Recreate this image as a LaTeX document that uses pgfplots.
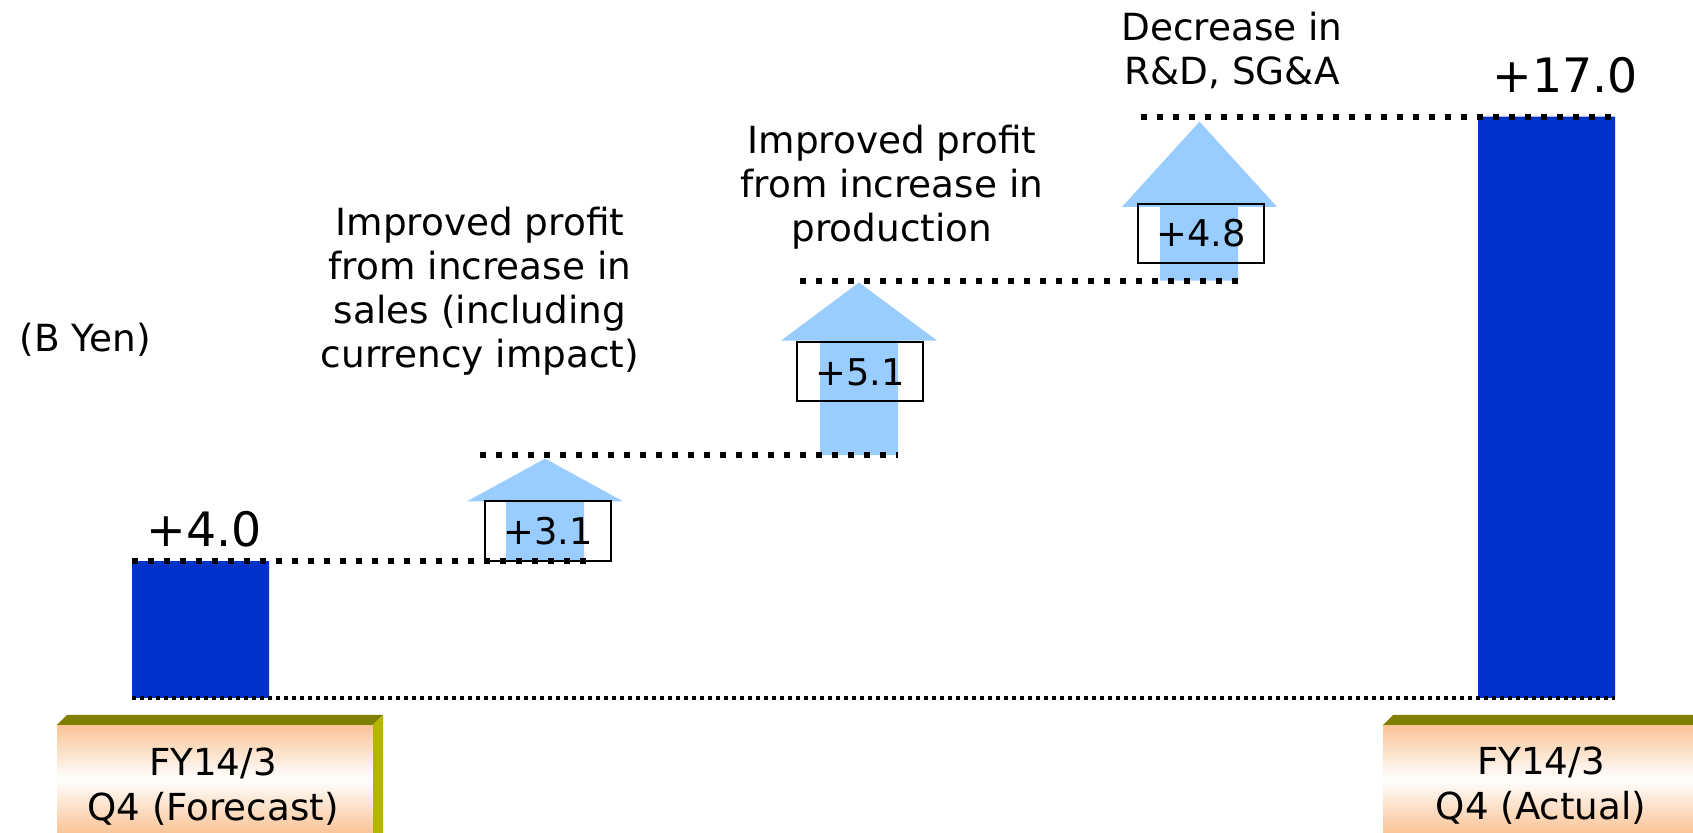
\documentclass[border=0pt]{standalone}
\usepackage{pgfplots}
\pgfplotsset{compat=1.18}
\usepackage{fontspec}
\setmainfont{DejaVu Sans}
\definecolor{barblue}{RGB}{0,51,204}
\definecolor{arrowblue}{RGB}{153,204,255}
\definecolor{peach}{RGB}{250,196,150}
\definecolor{olivetop}{RGB}{128,128,0}
\definecolor{oliveside}{RGB}{181,181,0}
\newcommand{\annfont}{\fontsize{18.7pt}{22pt}\selectfont}
\newcommand{\bigfont}{\fontsize{23.7pt}{28pt}\selectfont}
\newcommand{\boxfont}{\fontsize{18.4pt}{21pt}\selectfont}
\begin{document}
\begin{tikzpicture}
\begin{axis}[
  at={(0pt,0pt)}, anchor=south west,
  scale only axis, width=846.5pt, height=416.5pt,
  xmin=0, xmax=1693, ymin=-3.947, ymax=20.409,
  hide axis, clip=false,
]
% arrows (increments 3.1, 5.1, 4.8)
\addplot[fill=arrowblue, draw=none] coordinates {(506,4.0) (584,4.0) (584,5.75) (623,5.75) (545,7.0) (467,5.75) (506,5.75)} -- cycle;
\addplot[fill=arrowblue, draw=none] coordinates {(820,7.1) (898,7.1) (898,10.45) (937,10.45) (859,12.15) (781,10.45) (820,10.45)} -- cycle;
\addplot[fill=arrowblue, draw=none] coordinates {(1160,12.2) (1238,12.2) (1238,14.36) (1277,14.36) (1199.5,16.85) (1122,14.36) (1160,14.36)} -- cycle;
% bars
\addplot[ybar, bar width=137, bar shift=0pt, fill=barblue, draw=none] coordinates {(200.5,4.0) (1546.5,17.0)};
% value boxes
\draw[black, line width=1pt] (axis cs:485,5.75) rectangle (axis cs:611,4.02);
\draw[black, line width=1pt] (axis cs:797,10.4) rectangle (axis cs:923,8.67);
\draw[black, line width=1pt] (axis cs:1138,14.45) rectangle (axis cs:1264,12.72);
\node[inner sep=0, font=\boxfont] at (axis cs:548,4.885) {+3.1};
\node[inner sep=0, font=\boxfont] at (axis cs:860,9.535) {+5.1};
\node[inner sep=0, font=\boxfont] at (axis cs:1201,13.585) {+4.8};
% level lines
\addplot[black, line width=3pt, dash pattern=on 3pt off 5pt, line cap=butt] coordinates {(132,4.0) (590,4.0)};
\addplot[black, line width=3pt, dash pattern=on 3pt off 5pt, line cap=butt] coordinates {(480,7.1) (898,7.1)};
\addplot[black, line width=3pt, dash pattern=on 3pt off 5pt, line cap=butt] coordinates {(800,12.2) (1238,12.2)};
\addplot[black, line width=3pt, dash pattern=on 3pt off 5pt, line cap=butt] coordinates {(1141,17.0) (1615,17.0)};
\addplot[black, line width=2pt, dash pattern=on 2pt off 2pt, line cap=butt] coordinates {(132,0) (1615,0)};
\end{axis}
\begin{scope}[x=0.5pt, y=-0.5pt, shift={(0pt,416.5pt)}]
% category boxes
\shade[top color=peach, bottom color=peach, middle color=white] (57,725) rectangle (373,833);
\fill[olivetop] (57,725) -- (67,715) -- (383,715) -- (373,725) -- cycle;
\fill[oliveside] (373,725) -- (383,715) -- (383,840) -- (373,840) -- cycle;
\shade[top color=peach, bottom color=peach, middle color=white] (1383,725) rectangle (1700,833);
\fill[olivetop] (1383,725) -- (1393,715) -- (1710,715) -- (1700,725) -- cycle;
\node[inner sep=0, align=center, font=\fontsize{18.6pt}{22.5pt}\selectfont] at (213,787) {FY14/3\\Q4 (Forecast)};
\node[inner sep=0, align=center, font=\fontsize{18.6pt}{22.5pt}\selectfont] at (1541,786) {FY14/3\\Q4 (Actual)};
% texts
\node[inner sep=0, font=\bigfont] at (204,529) {+4.0};
\node[inner sep=0, font=\bigfont] at (1565,75) {+17.0};
\node[inner sep=0, font=\annfont] at (85.5,340) {(B Yen)};
\node[inner sep=0, align=center, font=\annfont] at (480,291) {Improved profit\\from increase in\\sales (including\\currency impact)};
\node[inner sep=0, align=center, font=\annfont] at (892,187) {Improved profit\\from increase in\\production};
\node[inner sep=0, align=center, font=\annfont] at (1232,50) {Decrease in\\R\&D, SG\&A};
\end{scope}
\pgfresetboundingbox
\path[use as bounding box] (0,0) rectangle (846.5pt,416.5pt);
\end{tikzpicture}
\end{document}
